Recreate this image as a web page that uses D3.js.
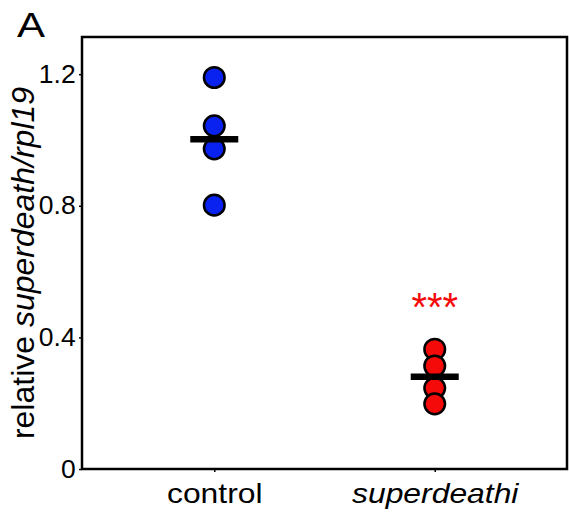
<!DOCTYPE html>
<html>
<head>
<meta charset="utf-8">
<script src="https://cdn.jsdelivr.net/npm/d3@7"></script>
<style>
  body { margin: 0; background: #fff; }
  svg { display: block; font-family: Arial, "Liberation Sans", sans-serif; }
</style>
</head>
<body>
<div id="chart"></div>
<script>
// === Dot plot: relative superdeath/rpl19 ===

const groups = ['control', 'superdeathi'];
const controlValues = [1.19, 1.043, 0.973, 0.802];
const knockdownValues = [0.364, 0.313, 0.246, 0.198];
const yTicks = [0, 0.4, 0.8, 1.2];
const yTickLabels = ['0', '0.4', '0.8', '1.2'];

const WIDTH = 569;
const HEIGHT = 512;
const MARGIN = { top: 37, right: 2, bottom: 43, left: 82 };
const DOT_RADIUS = 10.3;
const FONT = 'Arial, "Liberation Sans", sans-serif';

const svg = d3.select('#chart')
  .append('svg')
  .attr('width', WIDTH)
  .attr('height', HEIGHT);

const x = d3.scalePoint()
  .domain(groups)
  .range([MARGIN.left, WIDTH - MARGIN.right])
  .padding(0.6);

const y = d3.scaleLinear()
  .domain([0, 1.313])
  .range([HEIGHT - MARGIN.bottom, MARGIN.top]);

// Frame
svg.append('rect')
  .attr('x', MARGIN.left).attr('y', MARGIN.top)
  .attr('width', WIDTH - MARGIN.right - MARGIN.left)
  .attr('height', HEIGHT - MARGIN.bottom - MARGIN.top)
  .attr('fill', 'none')
  .attr('stroke', '#000')
  .attr('stroke-width', 2.5);

// Y axis
const yAxis = svg.append('g')
  .attr('transform', `translate(${MARGIN.left},0)`)
  .call(d3.axisLeft(y).tickValues(yTicks).tickSize(3).tickPadding(3)
    .tickFormat((d, i) => yTickLabels[i]));
yAxis.select('.domain').remove();
yAxis.selectAll('.tick line').attr('stroke', '#000').attr('stroke-width', 1.5);
yAxis.selectAll('text')
  .attr('fill', '#000')
  .attr('font-size', '25px')
  .attr('font-family', FONT)
  .attr('transform', 'scale(1.06,1)');

// X axis
const xAxis = svg.append('g')
  .attr('transform', `translate(0,${HEIGHT - MARGIN.bottom})`)
  .call(d3.axisBottom(x).tickSize(3).tickPadding(12));
xAxis.select('.domain').remove();
xAxis.selectAll('.tick line').attr('stroke', '#000').attr('stroke-width', 1.5);
xAxis.selectAll('text')
  .attr('fill', '#000')
  .attr('font-size', '27px')
  .attr('font-family', FONT)
  .attr('transform', 'scale(1.18,1)')
  .attr('font-style', d => d === 'superdeathi' ? 'italic' : 'normal');

// Y axis label
svg.append('text')
  .attr('transform', 'translate(34,263) rotate(-90)')
  .attr('text-anchor', 'middle')
  .attr('font-size', '32px')
  .attr('fill', '#000')
  .call(t => {
    t.append('tspan').text('relative ');
    t.append('tspan').attr('font-style', 'italic').text('superdeath/rpl19');
  });

// Panel letter
svg.append('text')
  .attr('transform', 'translate(17,37) scale(1.2,1)')
  .attr('font-size', '35px')
  .attr('fill', '#000')
  .text('A');

// Dots and mean lines
const series = [
  { group: 'control', values: controlValues, color: '#0a22f0' },
  { group: 'superdeathi', values: knockdownValues, color: '#f50a0a' }
];

for (const s of series) {
  const g = svg.append('g');
  g.selectAll('circle')
    .data(s.values)
    .join('circle')
    .attr('cx', x(s.group))
    .attr('cy', d => y(d))
    .attr('r', DOT_RADIUS)
    .attr('fill', s.color)
    .attr('stroke', '#000')
    .attr('stroke-width', 2.5);

  const mean = d3.mean(s.values);
  g.append('line')
    .attr('x1', x(s.group) - 24).attr('x2', x(s.group) + 24)
    .attr('y1', y(mean)).attr('y2', y(mean))
    .attr('stroke', '#000')
    .attr('stroke-width', 6.5);
}

// Significance stars
svg.append('text')
  .attr('x', x('superdeathi'))
  .attr('y', y(0.364) - 28)
  .attr('text-anchor', 'middle')
  .attr('font-size', '40px')
  .attr('fill', '#f50a0a')
  .text('***');
</script>
</body>
</html>
